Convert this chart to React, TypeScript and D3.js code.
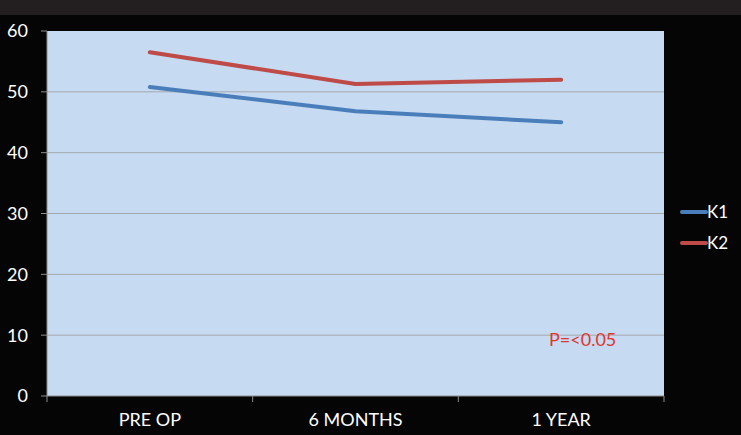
import React from "react";
import * as d3 from "d3";

const categories = ["PRE OP", "6 MONTHS", "1 YEAR"];
const k1Values = [50.8, 46.8, 45.0];
const k2Values = [56.5, 51.3, 52.0];
const seriesNames = ["K1", "K2"];
const yTicks = [0, 10, 20, 30, 40, 50, 60];
const annotation = "P=<0.05";

const W = 741;
const H = 435;
const plot = { left: 47, right: 664, top: 31, bottom: 396 };
const colors = ["#4a7ebb", "#be4b48"];
const font = "Lato, 'Noto Sans', sans-serif";

export default function App() {
  const x = d3
    .scaleBand<string>()
    .domain(categories)
    .range([plot.left, plot.right])
    .padding(0);
  const y = d3.scaleLinear().domain([0, 60]).range([plot.bottom, plot.top]);
  const line = d3
    .line<number>()
    .x((_, i) => (x(categories[i]) as number) + x.bandwidth() / 2)
    .y((d) => y(d))
    .curve(d3.curveLinear);
  const series = [k1Values, k2Values];
  const boundaries = categories.map((c) => x(c) as number).concat([plot.right]);

  return (
    <div style={{ position: "fixed", left: 0, top: 0 }}>
      <svg width={W} height={H} style={{ display: "block" }}>
        <rect x={0} y={0} width={W} height={H} fill="#050505" />
        <rect x={0} y={0} width={W} height={15} fill="#231f20" />
        <rect
          x={plot.left}
          y={plot.top}
          width={plot.right - plot.left}
          height={plot.bottom - plot.top}
          fill="#c6daf1"
        />
        {yTicks.map((t) => (
          <g key={t}>
            {t > 0 && t < 60 && (
              <line x1={plot.left} x2={plot.right} y1={y(t)} y2={y(t)} stroke="#a3a8ad" strokeWidth={1} />
            )}
            <line x1={plot.left - 6} x2={plot.left} y1={y(t)} y2={y(t)} stroke="#8c8c8c" strokeWidth={1} />
            <text
              x={28}
              y={y(t)}
              dy="0.36em"
              textAnchor="end"
              fill="#ffffff"
              fontFamily={font}
              fontSize={18}
            >
              {t}
            </text>
          </g>
        ))}
        <line x1={plot.left} x2={plot.left} y1={plot.top} y2={plot.bottom} stroke="#8c8c8c" strokeWidth={1} />
        <line x1={plot.left} x2={plot.right} y1={plot.bottom} y2={plot.bottom} stroke="#8c8c8c" strokeWidth={1} />
        {boundaries.map((b, i) => (
          <line key={i} x1={b} x2={b} y1={plot.bottom} y2={plot.bottom + 6} stroke="#8c8c8c" strokeWidth={1} />
        ))}
        {categories.map((c) => (
          <text
            key={c}
            x={(x(c) as number) + x.bandwidth() / 2}
            y={426}
            textAnchor="middle"
            fill="#ffffff"
            fontFamily={font}
            fontSize={18}
          >
            {c}
          </text>
        ))}
        {series.map((s, i) => (
          <path
            key={i}
            d={line(s) || ""}
            fill="none"
            stroke={colors[i]}
            strokeWidth={4}
            strokeLinecap="round"
            strokeLinejoin="round"
          />
        ))}
        {seriesNames.map((n, i) => (
          <g key={n}>
            <line
              x1={682}
              x2={706}
              y1={212 + i * 31}
              y2={212 + i * 31}
              stroke={colors[i]}
              strokeWidth={4}
              strokeLinecap="round"
            />
            <text
              x={707}
              y={212 + i * 31}
              dy="0.36em"
              fill="#ffffff"
              fontFamily={font}
              fontSize={17}
            >
              {n}
            </text>
          </g>
        ))}
        <text x={549} y={340} dy="0.36em" fill="#e0362e" fontFamily={font} fontSize={18}>
          {annotation}
        </text>
      </svg>
    </div>
  );
}
